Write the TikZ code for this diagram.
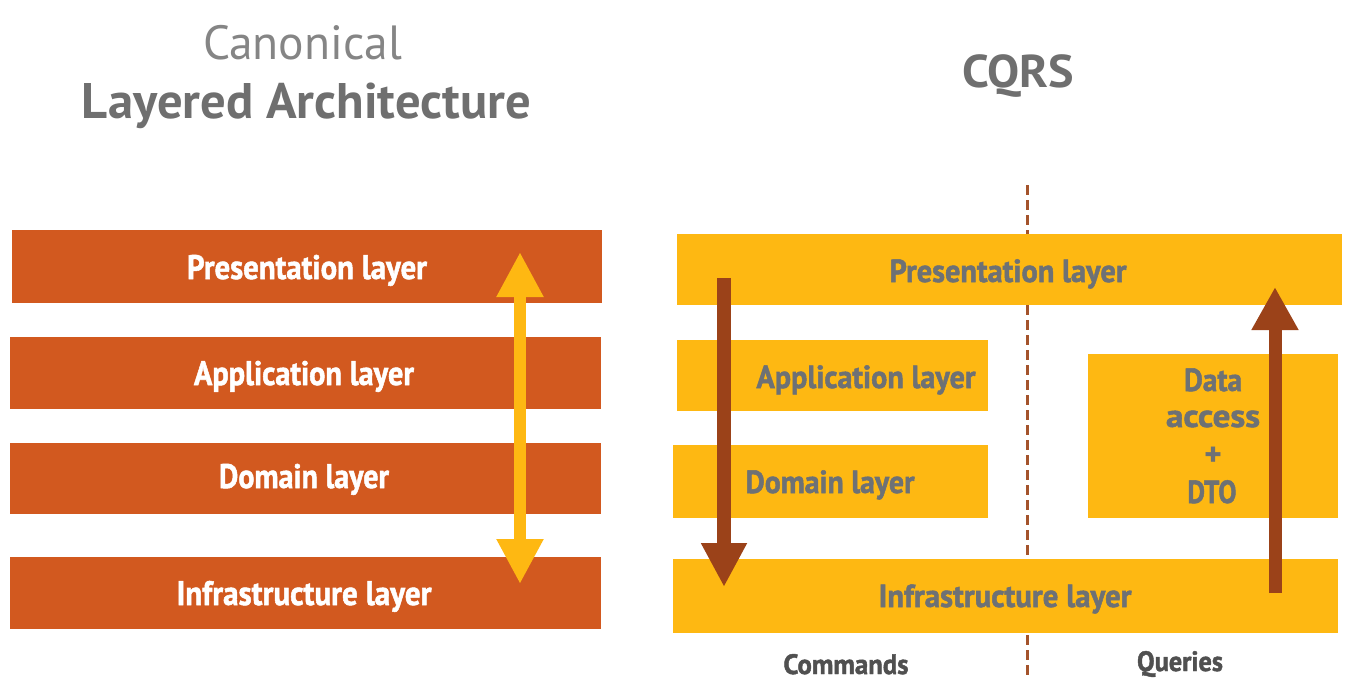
\documentclass[tikz,border=0pt]{standalone}
\usepackage{fontspec}
\setmainfont{PT Sans}
\newfontfamily\heavyfont{PT Sans}[BoldFeatures={FakeBold=1.6}]
\usetikzlibrary{arrows.meta}
\definecolor{orng}{HTML}{D2591F}
\definecolor{ylw}{HTML}{FEB812}
\definecolor{brwn}{HTML}{9B4219}
\definecolor{txtgray}{HTML}{6D7175}
\definecolor{ttlgray}{HTML}{6F6F6F}
\definecolor{ttllight}{HTML}{858585}
\definecolor{dashc}{HTML}{A4532B}
\definecolor{cmdgray}{HTML}{505050}
\newcommand\fitw[2]{\resizebox{#1}{\height}{#2}}
\begin{document}
\begin{tikzpicture}[x=1pt,y=-1pt,
  layerbox/.style={rectangle,inner sep=0pt,anchor=north west,draw=none},
  obox/.style={layerbox,fill=orng},
  ybox/.style={layerbox,fill=ylw},
  wtxt/.style={anchor=base,inner sep=0pt,text=white,font=\fontsize{34}{34}\selectfont\heavyfont\bfseries},
  gtxt/.style={anchor=base,inner sep=0pt,text=txtgray,font=\fontsize{32}{32}\selectfont\heavyfont\bfseries},
  ctxt/.style={anchor=base,inner sep=0pt,text=cmdgray,font=\fontsize{28}{28}\selectfont\heavyfont\bfseries},
  ttl/.style={anchor=base,inner sep=0pt},
  bigarrow/.style={line width=#1},
  tipA/.tip={Triangle[width=44pt,length=45pt]}
]
\useasboundingbox[fill=white] (0,0) rectangle (1353,680);

% titles
\node[ttl,text=ttllight,font=\fontsize{48}{48}\selectfont] (t1) at (302.5,59) {\fitw{199pt}{Canonical}};
\node[ttl,text=ttlgray,font=\fontsize{50}{50}\selectfont\bfseries] (t2) at (306.5,118) {\fitw{449pt}{Layered Architecture}};
\node[ttl,text=ttlgray,font=\fontsize{46}{46}\selectfont\bfseries] (t3) at (1018,87) {\fitw{112pt}{CQRS}};

% dashed separator (behind boxes)
\coordinate (dtop) at (1027,185);
\coordinate (dbot) at (1027,680);
\draw[dashc,line width=3pt,dash pattern=on 10pt off 5pt] (dtop) -- (dbot);

% left layers
\node[obox,minimum width=590pt,minimum height=73pt] (lpres) at (12,230) {};
\node[obox,minimum width=591pt,minimum height=72pt] (lapp) at (10,337) {};
\node[obox,minimum width=591pt,minimum height=71pt] (ldom) at (10,443) {};
\node[obox,minimum width=591pt,minimum height=72pt] (linf) at (10,557) {};

% right layers
\node[ybox,minimum width=665pt,minimum height=71pt] (rpres) at (677,234) {};
\node[ybox,minimum width=311pt,minimum height=71pt] (rapp) at (677,340) {};
\node[ybox,minimum width=315pt,minimum height=73pt] (rdom) at (673,445) {};
\node[ybox,minimum width=250pt,minimum height=164pt] (rdata) at (1088,354) {};
\node[ybox,minimum width=665pt,minimum height=74pt] (rinf) at (673,559) {};

% arrows
\coordinate (la1) at (520,252);
\coordinate (la2) at (520,584);
\draw[ylw,bigarrow=12pt,tipA-tipA] (la1) -- (la2);

\coordinate (cd1) at (724,278);
\coordinate (cd2) at (724,587);
\draw[brwn,bigarrow=14pt,-{Triangle[width=43pt,length=44pt]}] (cd1) -- (cd2);

\coordinate (qu1) at (1275,593);
\coordinate (qu2) at (1275,287);
\draw[brwn,bigarrow=13pt,-{Triangle[width=44pt,length=43pt]}] (qu1) -- (qu2);

% left texts
\node[wtxt] (lprest) at (307,279) {\fitw{240pt}{Presentation layer}};
\node[wtxt] (lappt) at (304,385) {\fitw{220pt}{Application layer}};
\node[wtxt] (ldomt) at (304,488) {\fitw{170pt}{Domain layer}};
\node[wtxt] (linft) at (304,605) {\fitw{255pt}{Infrastructure layer}};

% right texts
\node[gtxt] (rprest) at (1008,282) {\fitw{237pt}{Presentation layer}};
\node[gtxt] (rappt) at (866,388) {\fitw{219pt}{Application layer}};
\node[gtxt] (rdomt) at (830,493) {\fitw{169pt}{Domain layer}};
\node[gtxt] (rdat1) at (1213,391) {\fitw{58pt}{Data}};
\node[gtxt] (rdat2) at (1213,427) {\fitw{94pt}{access}};
\node[gtxt] (rdat3) at (1213,465) {+};
\node[gtxt] (rdat4) at (1212,503) {\fitw{49pt}{DTO}};
\node[gtxt] (rinft) at (1005,607) {\fitw{253pt}{Infrastructure layer}};

% bottom labels
\node[ctxt] (cmd) at (846,674) {\fitw{125pt}{Commands}};
\node[ctxt] (qry) at (1180,671) {\fitw{86pt}{Queries}};
\end{tikzpicture}
\end{document}
